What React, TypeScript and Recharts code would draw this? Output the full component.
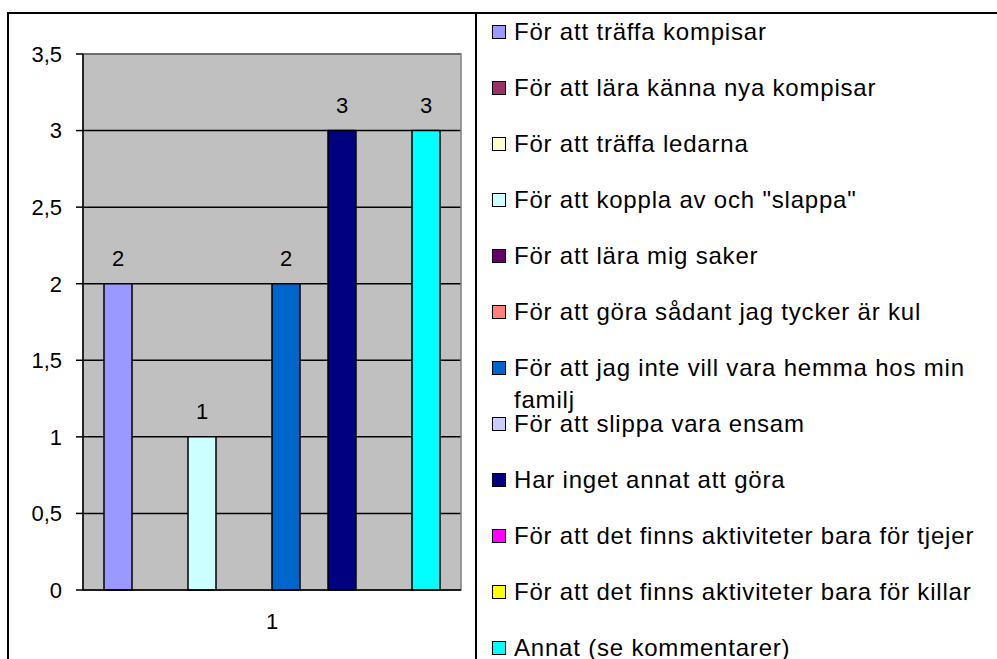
import { BarChart, Bar, XAxis, YAxis, CartesianGrid, Legend, LabelList, ReferenceArea } from 'recharts';

const FONT = '"Liberation Sans", Arial, sans-serif';

const categories = ['1'];
const seriesNames = [
  'För att träffa kompisar',
  'För att lära känna nya kompisar',
  'För att träffa ledarna',
  'För att koppla av och "slappa"',
  'För att lära mig saker',
  'För att göra sådant jag tycker är kul',
  'För att jag inte vill vara hemma hos min familj',
  'För att slippa vara ensam',
  'Har inget annat att göra',
  'För att det finns aktiviteter bara för tjejer',
  'För att det finns aktiviteter bara för killar',
  'Annat (se kommentarer)',
];
const seriesValues = [2, 0, 0, 1, 0, 0, 2, 0, 3, 0, 0, 3];
const seriesColors = [
  '#9999FF', '#993366', '#FFFFCC', '#CCFFFF', '#660066', '#FF8080',
  '#0066CC', '#CCCCFF', '#000080', '#FF00FF', '#FFFF00', '#00FFFF',
];
const yTicks = [0, 0.5, 1, 1.5, 2, 2.5, 3, 3.5];

const data = categories.map((c) => {
  const row: Record<string, string | number> = { name: c };
  seriesValues.forEach((v, i) => { row['s' + i] = v; });
  return row;
});

const renderLegend = (props: any) => {
  // keep series order (recharts sorts legend items by name otherwise)
  const items = [...(props.payload || [])].sort(
    (a: any, b: any) => seriesNames.indexOf(a.value) - seriesNames.indexOf(b.value)
  );
  return (
    <div style={{ fontFamily: FONT, fontSize: 24, letterSpacing: 0.8, color: '#000' }}>
      {items.map((it: any, i: number) => (
        <div key={i} style={{ position: 'relative', height: 56, lineHeight: '32px' }}>
          <span style={{ position: 'absolute', left: 16, top: 9, width: 12, height: 12, background: it.color, border: '1px solid #000' }} />
          <div style={{ position: 'absolute', left: 38, top: 0, width: 485 }}>{it.value}</div>
        </div>
      ))}
    </div>
  );
};

export default function App() {
  return (
    <div style={{ position: 'absolute', left: 0, top: 0, width: 997, height: 659, overflow: 'hidden', background: '#fff' }}>
      {/* outer frame + legend box lines */}
      <div style={{ position: 'absolute', left: 7, top: 12, width: 1000, height: 700, borderLeft: '2px solid #000', borderTop: '2px solid #000' }} />
      <div style={{ position: 'absolute', left: 475, top: 12, width: 10, height: 700, borderLeft: '2px solid #000' }} />
      <BarChart
        width={997}
        height={659}
        data={data}
        margin={{ top: 54, right: 536, left: 0, bottom: 0 }}
        barSize={28}
        barGap={0}
      >
        <CartesianGrid vertical={false} stroke="#000" strokeWidth={1.5} fill="#C0C0C0" fillOpacity={1} />
        <ReferenceArea y1={0} y2={3.5} fill="none" stroke="#808080" strokeWidth={1.5} />
        <XAxis
          dataKey="name"
          height={69}
          tickLine={false}
          tickSize={0}
          tickMargin={23}
          axisLine={{ stroke: '#000', strokeWidth: 1.5 }}
          tick={{ fill: '#000', fontSize: 22, fontFamily: FONT }}
        />
        <YAxis
          width={83}
          domain={[0, 3.5]}
          ticks={yTicks}
          interval={0}
          tickSize={7}
          tickMargin={14}
          tickFormatter={(v: number) => String(v).replace('.', ',')}
          axisLine={{ stroke: '#000', strokeWidth: 1.5 }}
          tickLine={{ stroke: '#000', strokeWidth: 1.5 }}
          tick={{ fill: '#000', fontSize: 22, fontFamily: FONT }}
        />
        <Legend
          layout="vertical"
          align="center"
          verticalAlign="middle"
          wrapperStyle={{ left: 476, top: 16, width: 521 }}
          content={renderLegend}
        />
        {seriesNames.map((name, i) => (
          <Bar
            key={name}
            dataKey={'s' + i}
            name={name}
            fill={seriesColors[i]}
            stroke="#000"
            strokeWidth={1.5}
            isAnimationActive={false}
          >
            <LabelList
              dataKey={'s' + i}
              position="top"
              offset={18}
              formatter={(v: any) => (v ? v : '')}
              fill="#000"
              fontSize={22}
              fontFamily={FONT}
            />
          </Bar>
        ))}
      </BarChart>
    </div>
  );
}
